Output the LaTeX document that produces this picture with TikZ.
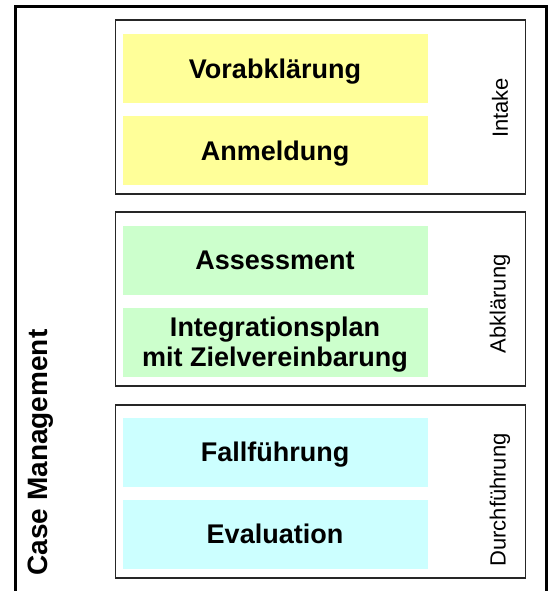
\documentclass[tikz,border=0pt]{standalone}
\usepackage{fontspec}
\setmainfont{Liberation Sans}
\usetikzlibrary{shapes.geometric, arrows}
\definecolor{intakeyellow}{HTML}{FFFF99}
\definecolor{abklgreen}{HTML}{CCFFCC}
\definecolor{durchcyan}{HTML}{CCFFFF}
\tikzstyle{stage} = [rectangle, minimum width=305pt, minimum height=69pt, text centered, align=center, text depth=0pt, font=\bfseries\fontsize{27}{30}\selectfont]
\tikzstyle{yellowstage} = [stage, fill=intakeyellow]
\tikzstyle{greenstage} = [stage, fill=abklgreen]
\tikzstyle{cyanstage} = [stage, fill=durchcyan]
\tikzstyle{phase} = [rectangle, minimum width=410pt, minimum height=174pt, draw=black!85, line width=1.3pt]
\tikzstyle{phaselabel} = [rotate=90, font=\fontsize{22}{26}\selectfont]
\tikzstyle{frame} = [line width=2.6pt]

\begin{document}
\begin{tikzpicture}[x=1pt, y=-1pt, node distance=82pt]
		\useasboundingbox (0,0) rectangle (550,591);
		\draw [frame] (15.3,591) -- (15.3,6.5) -- (546.3,6.5) -- (546.3,591);
		\node(intake) [phase] at (320.5,107) {};
		\node(abkl) [phase, below of=intake, node distance=192pt] {};
		\node(durch) [phase, below of=abkl, node distance=192.5pt, minimum height=173pt] {};
		\node(vor) [yellowstage] at (275,68.5) {Vorabklärung};
		\node(anm) [yellowstage, below of=vor] {Anmeldung};
		\node(ass) [greenstage, below of=anm, node distance=109.5pt] {Assessment};
		\node(integ) [greenstage, below of=ass] {Integrationsplan\\mit Zielvereinbarung};
		\node(fall) [cyanstage, below of=integ, node distance=110pt] {Fallführung};
		\node(eval) [cyanstage, below of=fall] {Evaluation};
		\node(intaketext) [phaselabel] at (500,108) {Intake};
		\node(abkltext) [phaselabel] at (500,304) {Abklärung};
		\node(durchtext) [phaselabel] at (500,500) {Durchführung};
		\node(cm) [rotate=90, font=\bfseries\fontsize{28}{32}\selectfont] at (41,452.5) {Case Management};
	\end{tikzpicture}
\end{document}
